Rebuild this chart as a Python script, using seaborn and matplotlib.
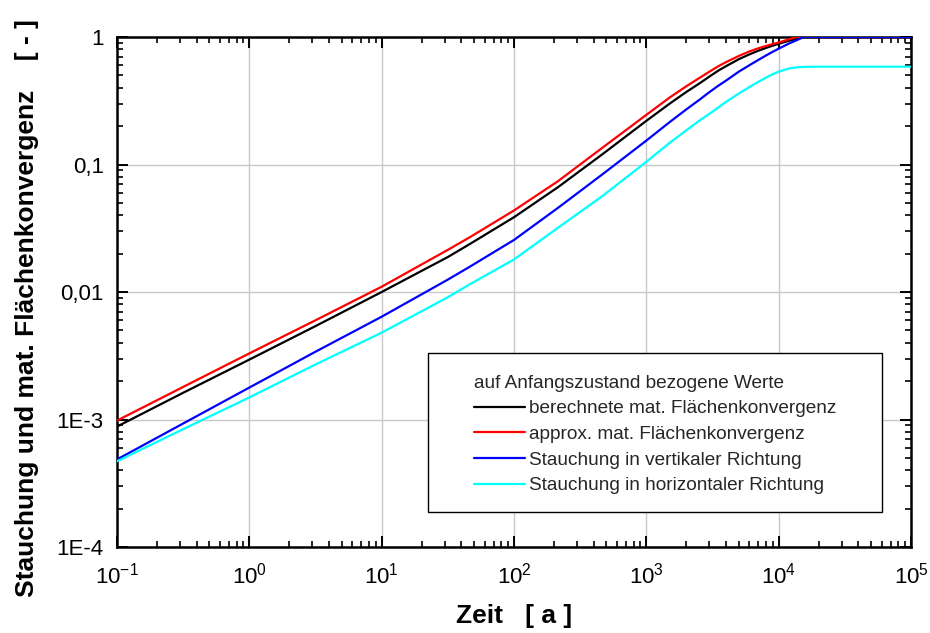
import numpy as np
import pandas as pd
import matplotlib
matplotlib.use("Agg")
import matplotlib.pyplot as plt
import matplotlib.ticker as mticker
from matplotlib.patches import Rectangle
import seaborn as sns

# Zeit in Jahren
zeit = [0.1, 0.316, 1, 3.16, 10, 31.6, 46.4, 100, 215, 464, 1000, 1500,
        2000, 2500, 3000, 3500, 4000, 5000, 6000, 7000, 8000, 9000, 10000,
        12000, 13700, 15500, 20000, 100000]

# auf Anfangszustand bezogene Werte
berechnet = [0.00088, 0.00162, 0.00295, 0.0054, 0.0100, 0.0188, 0.0238, 0.0386,
             0.0664, 0.120, 0.220, 0.30, 0.37, 0.43, 0.49, 0.545, 0.59, 0.67,
             0.73, 0.78, 0.82, 0.855, 0.885, 0.935, 0.97, 1.0, 1.0, 1.0]
approx = [0.00098, 0.0018, 0.0033, 0.0060, 0.0110, 0.0214, 0.0269, 0.0436,
          0.074, 0.135, 0.245, 0.335, 0.41, 0.475, 0.535, 0.59, 0.635, 0.71,
          0.77, 0.815, 0.85, 0.88, 0.905, 0.96, 1.0, 1.0, 1.0, 1.0]
vertikal = [0.000486, 0.00093, 0.00178, 0.0034, 0.0064, 0.0125, 0.0158, 0.0256,
            0.0457, 0.0835, 0.154, 0.215, 0.27, 0.32, 0.37, 0.415, 0.455,
            0.535, 0.60, 0.66, 0.715, 0.765, 0.81, 0.89, 0.945, 1.0, 1.0, 1.0]
horizontal = [0.00047, 0.00084, 0.00149, 0.0027, 0.0048, 0.0091, 0.0115, 0.018,
              0.0319, 0.0564, 0.105, 0.148, 0.185, 0.22, 0.25, 0.28, 0.31,
              0.36, 0.405, 0.445, 0.48, 0.51, 0.535, 0.567, 0.578, 0.583,
              0.585, 0.585]

series_names = ["berechnete mat. Flächenkonvergenz",
                "approx. mat. Flächenkonvergenz",
                "Stauchung in vertikaler Richtung",
                "Stauchung in horizontaler Richtung"]
series_values = [berechnet, approx, vertikal, horizontal]
series_colors = ["#000000", "#ff0000", "#0000ff", "#00ffff"]

y_ticks = [1e-4, 1e-3, 1e-2, 1e-1, 1]
y_ticklabels = ["1E-4", "1E-3", "0,01", "0,1", "1"]
x_ticks = [1e-1, 1e0, 1e1, 1e2, 1e3, 1e4, 1e5]
x_ticklabels = [r"$10^{-1}$", r"$10^{0}$", r"$10^{1}$", r"$10^{2}$",
                r"$10^{3}$", r"$10^{4}$", r"$10^{5}$"]

sns.set_theme(style="white")
plt.rcParams["font.family"] = ["Liberation Sans", "DejaVu Sans"]
plt.rcParams["mathtext.default"] = "regular"

df = pd.DataFrame({
    "Zeit": np.tile(zeit, len(series_names)),
    "Wert": np.concatenate(series_values),
    "Reihe": np.repeat(series_names, len(zeit)),
})

fig = plt.figure(figsize=(9.3, 6.33), dpi=100)
fig.patch.set_facecolor("white")
ax = fig.add_axes([117 / 930, 1 - 547 / 633, 794 / 930, 510 / 633])

sns.lineplot(data=df, x="Zeit", y="Wert", hue="Reihe", hue_order=series_names,
             palette=dict(zip(series_names, series_colors)), linewidth=1.6,
             estimator=None, sort=True, legend=False, ax=ax, zorder=3)

ax.set_xscale("log")
ax.set_yscale("log")
ax.set_xlim(1e-1, 1e5)
ax.set_ylim(1e-4, 1)

ax.xaxis.set_major_locator(mticker.FixedLocator(x_ticks))
ax.xaxis.set_major_formatter(mticker.FixedFormatter(x_ticklabels))
ax.yaxis.set_major_locator(mticker.FixedLocator(y_ticks))
ax.yaxis.set_major_formatter(mticker.FixedFormatter(y_ticklabels))
ax.xaxis.set_minor_locator(mticker.LogLocator(base=10, subs=np.arange(2, 10), numticks=20))
ax.yaxis.set_minor_locator(mticker.LogLocator(base=10, subs=np.arange(2, 10), numticks=20))
ax.xaxis.set_minor_formatter(mticker.NullFormatter())
ax.yaxis.set_minor_formatter(mticker.NullFormatter())

ax.tick_params(which="both", direction="in", top=True, right=True,
               bottom=True, left=True, color="black")
ax.tick_params(which="major", length=8, width=1.4, labelsize=16, pad=9.5,
               labelcolor="black")
ax.tick_params(axis="x", which="major", pad=11)
ax.tick_params(which="minor", length=4.5, width=1.2)

ax.grid(True, which="major", color="#c8c8c8", linewidth=1.0, zorder=0)
ax.set_axisbelow(True)
for sp in ax.spines.values():
    sp.set_visible(True)
    sp.set_color("black")
    sp.set_linewidth(1.8)
ax.set_facecolor("white")

ax.set_xlabel("Zeit   [ a ]", fontsize=19, fontweight="bold", color="black")
ax.set_ylabel("Stauchung und mat. Flächenkonvergenz    [ - ]", fontsize=19,
              fontweight="bold", color="black")
ax.xaxis.set_label_coords(0.5, -0.112)
ax.yaxis.set_label_coords(-0.098, 0.469)

# Legendenrahmen
ax.add_patch(Rectangle((0.392, 0.0686), 0.571, 0.312, transform=ax.transAxes,
                       facecolor="white", edgecolor="black", linewidth=1.0,
                       zorder=4))
handles = [plt.Line2D([], [], color=c, linewidth=1.6) for c in series_colors]
leg = ax.legend(handles, series_names, title="auf Anfangszustand bezogene Werte",
                loc="upper left", bbox_to_anchor=(0.449, 0.338),
                frameon=False, fontsize=13.7, title_fontsize=13.7,
                alignment="left", borderpad=0, borderaxespad=0,
                handlelength=2.7, handletextpad=0.2, labelspacing=0.44)
leg.set_zorder(5)

fig.savefig("out.png", dpi=100, facecolor="white")
